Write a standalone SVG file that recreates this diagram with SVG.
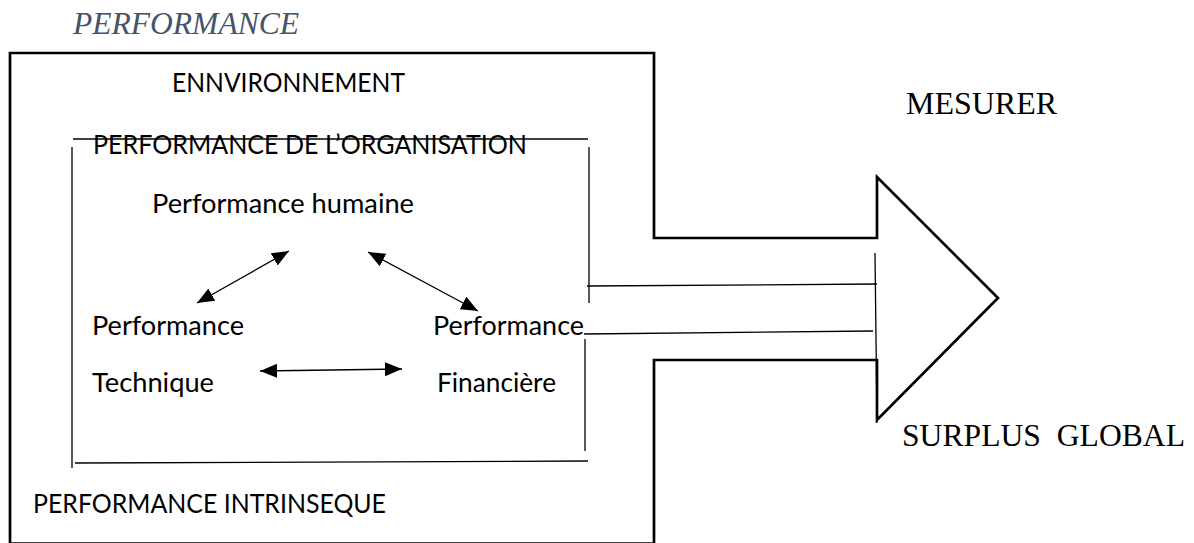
<svg xmlns="http://www.w3.org/2000/svg" width="1194" height="543" viewBox="0 0 1194 543">
<style>
.sans{font-family:Lato,"Liberation Sans",sans-serif;font-size:27.5px;fill:#000}
.serif{font-family:"Liberation Serif","Times New Roman",serif;font-size:31px;fill:#000}
.title{font-family:"Liberation Serif","Times New Roman",serif;font-size:31px;font-style:italic;fill:#44546A}
.thick{fill:none;stroke:#000;stroke-width:2.7;stroke-linejoin:miter}
.thin{fill:none;stroke:#000;stroke-width:1.3}
.conn{fill:none;stroke:#000;stroke-width:1.3;marker-start:url(#ah);marker-end:url(#ah)}
</style>
<defs>
<marker id="ah" viewBox="0 0 10 10" preserveAspectRatio="none" markerUnits="userSpaceOnUse" markerWidth="17" markerHeight="14" refX="10" refY="5" orient="auto-start-reverse">
<path d="M0,0 L10,5 L0,10 z" fill="#000"/>
</marker>
</defs>
<rect width="1194" height="543" fill="#fff"/>
<g id="title">
<text class="title" x="73" y="34" textLength="226" lengthAdjust="spacingAndGlyphs">PERFORMANCE</text>
</g>
<g id="environnement">
<path class="thick" d="M654,543.5 L654,360 L877,360 L877,420 L998,298 L877,177 L877,238 L654,238 L654,53 L10,53 L10,543.5 Z"/>
<text class="sans" x="172" y="92" textLength="233" lengthAdjust="spacingAndGlyphs">ENNVIRONNEMENT</text>
<text class="sans" x="33" y="513" textLength="353" lengthAdjust="spacingAndGlyphs">PERFORMANCE INTRINSEQUE</text>
</g>
<g id="organisation">
<line class="thin" x1="73" y1="139" x2="588" y2="139"/>
<line class="thin" x1="72" y1="147" x2="72" y2="468"/>
<line class="thin" x1="75" y1="463" x2="588" y2="461"/>
<line class="thin" x1="589" y1="147" x2="589" y2="303"/>
<line class="thin" x1="585" y1="339" x2="585" y2="451"/>
<text class="sans" x="93" y="154" textLength="434" lengthAdjust="spacingAndGlyphs">PERFORMANCE DE L’ORGANISATION</text>
</g>
<g id="humaine">
<text class="sans" x="152" y="213" textLength="262" lengthAdjust="spacingAndGlyphs">Performance humaine</text>
</g>
<g id="technique">
<text class="sans" x="92" y="335" textLength="152" lengthAdjust="spacingAndGlyphs">Performance</text>
<text class="sans" x="92" y="392" textLength="122" lengthAdjust="spacingAndGlyphs">Technique</text>
</g>
<g id="financiere">
<text class="sans" x="433" y="335" textLength="151" lengthAdjust="spacingAndGlyphs">Performance</text>
<text class="sans" x="437" y="392" textLength="119" lengthAdjust="spacingAndGlyphs">Financière</text>
</g>
<g id="mesurer">
<text class="serif" x="906" y="114" textLength="151" lengthAdjust="spacingAndGlyphs">MESURER</text>
</g>
<g id="surplus">
<text class="serif" x="902" y="446" textLength="283" lengthAdjust="spacingAndGlyphs" xml:space="preserve">SURPLUS  GLOBAL</text>
</g>
<g id="connectors">
<line class="conn" x1="197" y1="303" x2="289" y2="251"/>
<line class="conn" x1="368" y1="252" x2="478" y2="311"/>
<line class="conn" x1="260" y1="371" x2="402" y2="369"/>
<line class="thin" x1="587" y1="286" x2="877" y2="284"/>
<line class="thin" x1="584" y1="334" x2="873" y2="331"/>
<line class="thin" x1="875" y1="253" x2="877" y2="423"/>
</g>
</svg>
